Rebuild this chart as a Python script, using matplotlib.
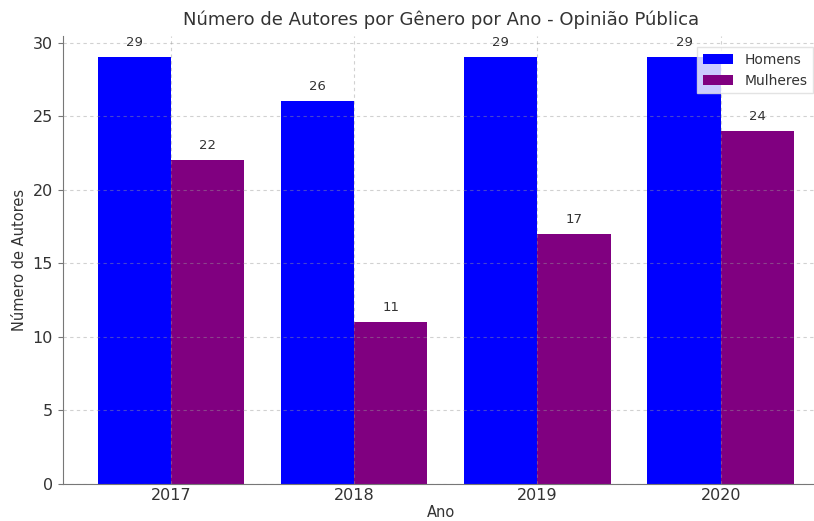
import matplotlib
matplotlib.use("Agg")
import matplotlib.pyplot as plt
import numpy as np

# Autores por gênero e ano
anos = ["2017", "2018", "2019", "2020"]
homens = [29, 26, 29, 29]
mulheres = [22, 11, 17, 24]

x = np.arange(len(anos))
largura = 0.4

fig = plt.figure(figsize=(8.14, 5.21), dpi=100)
ax = fig.add_axes([0.077, 0.071, 0.93, 0.86])

b1 = ax.bar(x - largura / 2, homens, largura, color="blue", label="Homens")
b2 = ax.bar(x + largura / 2, mulheres, largura, color="purple", label="Mulheres")

# valores acima das barras
for barras in (b1, b2):
    for b in barras:
        ax.annotate(f"{int(b.get_height())}",
                    xy=(b.get_x() + b.get_width() / 2, b.get_height()),
                    xytext=(0, 6), textcoords="offset points",
                    ha="center", va="bottom", fontsize=9.5, color="#333333")

ax.set_xticks(x)
ax.set_xticklabels(anos)
ax.set_xlim(-0.59, 3.54)
ax.set_ylim(0, 30.45)
ax.set_yticks(range(0, 31, 5))

ax.grid(True, linestyle=(0, (3, 3)), color="#999999", linewidth=0.8, alpha=0.45)
ax.set_axisbelow(False)

for s in ("top", "right"):
    ax.spines[s].set_visible(False)
for s in ("left", "bottom"):
    ax.spines[s].set_color("#777777")

ax.tick_params(axis="both", labelsize=11.5, colors="#333333")
ax.tick_params(axis="x", length=0, pad=3)
ax.tick_params(axis="y", color="#777777")

ax.set_title("Número de Autores por Gênero por Ano - Opinião Pública",
             fontsize=13, color="#333333", pad=8)
ax.set_xlabel("Ano", fontsize=10.5, color="#333333", labelpad=1)
ax.set_ylabel("Número de Autores", fontsize=10.5, color="#333333")

leg = ax.legend(loc="upper right", bbox_to_anchor=(1.0, 0.99), fontsize=10,
                frameon=True, fancybox=False, edgecolor="#dddddd",
                labelcolor="#333333", handlelength=2.2)

fig.savefig("out.png", dpi=100)
